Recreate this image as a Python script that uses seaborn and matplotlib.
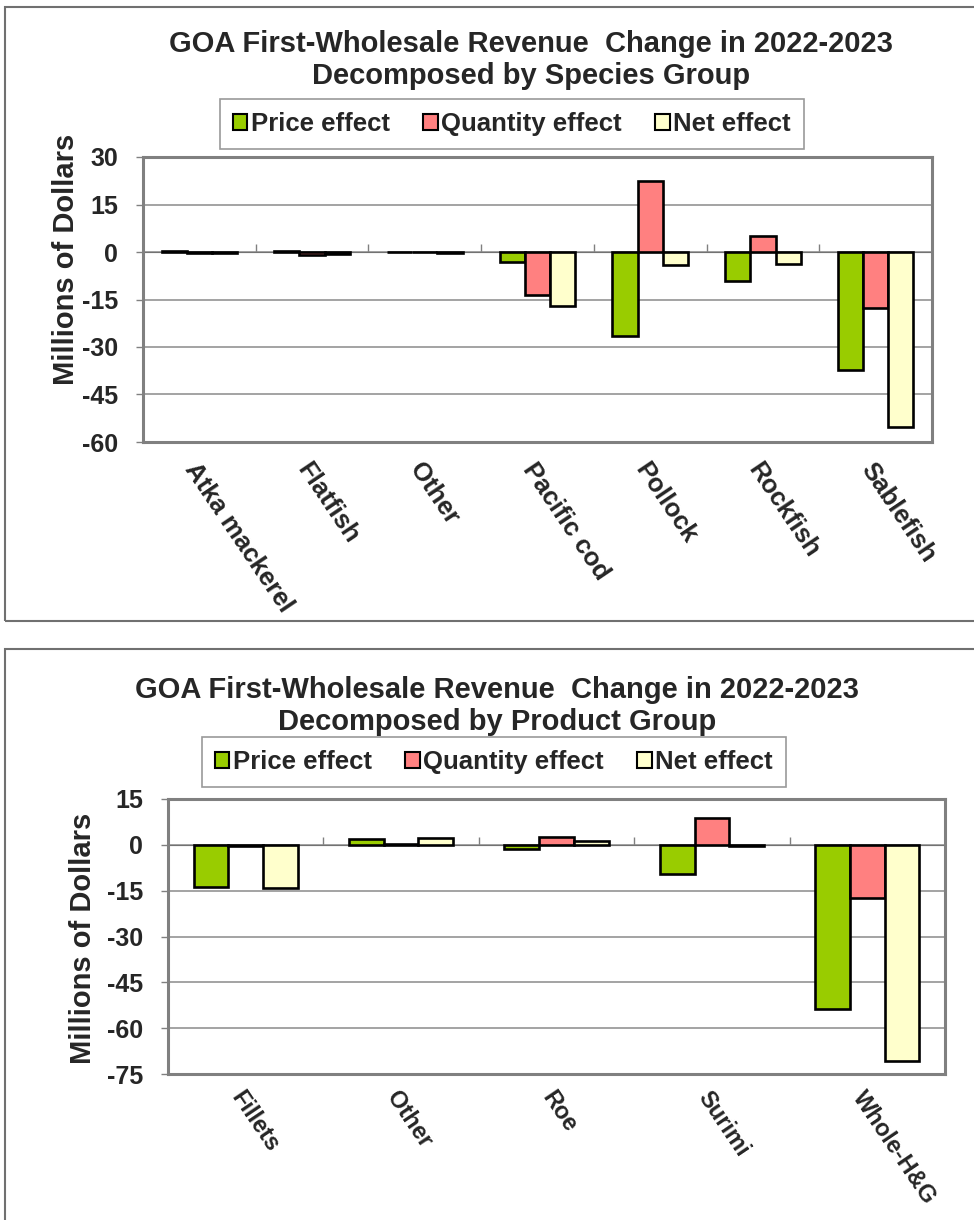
import matplotlib
matplotlib.use("Agg")
import matplotlib.pyplot as plt
from matplotlib.patches import Patch, Rectangle
import numpy as np
import pandas as pd
import seaborn as sns

# --- data -------------------------------------------------------------
effects = ["Price effect", "Quantity effect", "Net effect"]
colors = ["#99CC00", "#FF8080", "#FFFFCC"]

species = ["Atka mackerel", "Flatfish", "Other", "Pacific cod",
           "Pollock", "Rockfish", "Sablefish"]
species_price = [0.2, 0.2, 0.1, -3.2, -26.6, -9.0, -37.4]
species_quantity = [-0.3, -0.8, -0.1, -13.7, 22.5, 5.2, -17.8]
species_net = [-0.2, -0.6, -0.2, -17.1, -4.2, -3.7, -55.2]
species_ticks = [30, 15, 0, -15, -30, -45, -60]

products = ["Fillets", "Other", "Roe", "Surimi", "Whole-H&G"]
product_price = [-13.9, 1.8, -1.5, -9.6, -53.6]
product_quantity = [-0.5, 0.2, 2.6, 8.8, -17.4]
product_net = [-14.2, 2.1, 1.2, -0.5, -70.9]
product_ticks = [15, 0, -15, -30, -45, -60, -75]

title_species = "GOA First-Wholesale Revenue  Change in 2022-2023\nDecomposed by Species Group"
title_product = "GOA First-Wholesale Revenue  Change in 2022-2023\nDecomposed by Product Group"
ylabel = "Millions of Dollars"


def long_frame(groups, price, quantity, net):
    return pd.DataFrame({
        "group": list(groups) * 3,
        "effect": np.repeat(effects, len(groups)),
        "value": list(price) + list(quantity) + list(net),
    })


sns.set_style("white")
plt.rcParams["font.family"] = ["Liberation Sans", "DejaVu Sans"]
plt.rcParams["font.weight"] = "bold"

W, H = 974, 1220
fig = plt.figure(figsize=(W / 100, H / 100), dpi=100)


def fx(px):
    return px / W


def fy(py):
    return 1 - py / H


GRAY = "#808080"


def draw_panel(rect, df, groups, ticks, title_xy, legend_xy, label_xy,
               xlabel_size, xlabel_pad):
    left, top, right, bottom = rect
    ax = fig.add_axes([fx(left), fy(bottom), fx(right) - fx(left), fy(top) - fy(bottom)])
    sns.barplot(data=df, x="group", y="value", hue="effect", order=groups,
                hue_order=effects, palette=colors, edgecolor="black",
                linewidth=1.9, width=0.67, saturation=1, ax=ax, legend=False,
                errorbar=None)
    ymax, ymin = max(ticks), min(ticks)
    ax.set_ylim(ymin, ymax)
    ax.set_xlim(-0.5, len(groups) - 0.5)
    ax.set_yticks(ticks)
    ax.set_yticklabels([str(t) for t in ticks], fontsize=18, fontweight="bold")
    ax.yaxis.grid(True, color="#8a8a8a", lw=1.1)
    ax.set_axisbelow(True)
    for s in ax.spines.values():
        s.set_color(GRAY)
        s.set_linewidth(2.2)
    ax.tick_params(axis="y", direction="out", length=5, width=1, color=GRAY, pad=13,
                   left=True)
    ax.tick_params(axis="x", length=0, pad=xlabel_pad)
    ax.set_xticks(range(len(groups)))
    ax.set_xticklabels(groups, rotation=-56, ha="left", va="top",
                       rotation_mode="anchor", fontsize=xlabel_size,
                       fontweight="bold")
    ax.set_xlabel("")
    ax.set_ylabel("")

    # category axis crossing at zero, ticks between groups
    zero_frac = (0 - ymin) / (ymax - ymin)
    sec = ax.secondary_xaxis(zero_frac)
    sec.set_xticks(np.arange(len(groups) + 1) - 0.5)
    sec.set_xticklabels([])
    sec.tick_params(direction="out", length=6, width=1, color=GRAY)
    sec.spines["bottom"].set_color(GRAY)
    sec.spines["bottom"].set_linewidth(1.2)

    fig.text(fx(title_xy[0]), fy(title_xy[1]), df.attrs["title"], ha="center",
             va="center", fontsize=21, fontweight="bold", linespacing=1.22)

    handles = [Patch(facecolor=c, edgecolor="black", lw=1.5) for c in colors]
    leg = fig.legend(handles, effects, loc="center", ncol=3,
                     bbox_to_anchor=(fx(legend_xy[0]), fy(legend_xy[1])),
                     frameon=True, fancybox=False, edgecolor=GRAY,
                     handlelength=0.55, handleheight=0.55, handletextpad=0.15,
                     columnspacing=1.3, borderpad=0.5,
                     prop={"size": 18.5, "weight": "bold"})
    leg.get_frame().set_linewidth(1.2)

    fig.text(fx(label_xy[0]), fy(label_xy[1]), ylabel, rotation=90, ha="center",
             va="center", fontsize=21, fontweight="bold")
    return ax


df_s = long_frame(species, species_price, species_quantity, species_net)
df_s.attrs["title"] = title_species
draw_panel((143, 157, 932, 442), df_s, species, species_ticks,
           (531, 60), (512, 124), (66, 259), 18.5, 12)

df_p = long_frame(products, product_price, product_quantity, product_net)
df_p.attrs["title"] = title_product
draw_panel((168, 799, 945, 1074), df_p, products, product_ticks,
           (497, 706), (494, 762), (83, 938), 17, 9)

# panel frames
fig.add_artist(Rectangle((fx(5), fy(621)), 1.02, fy(7) - fy(621),
                         transform=fig.transFigure, fill=False,
                         edgecolor="#707070", lw=1.5))
fig.add_artist(Rectangle((fx(5), -0.02), 1.02, fy(649) + 0.02,
                         transform=fig.transFigure, fill=False,
                         edgecolor="#707070", lw=1.5))

fig.savefig("out.png", dpi=100)
